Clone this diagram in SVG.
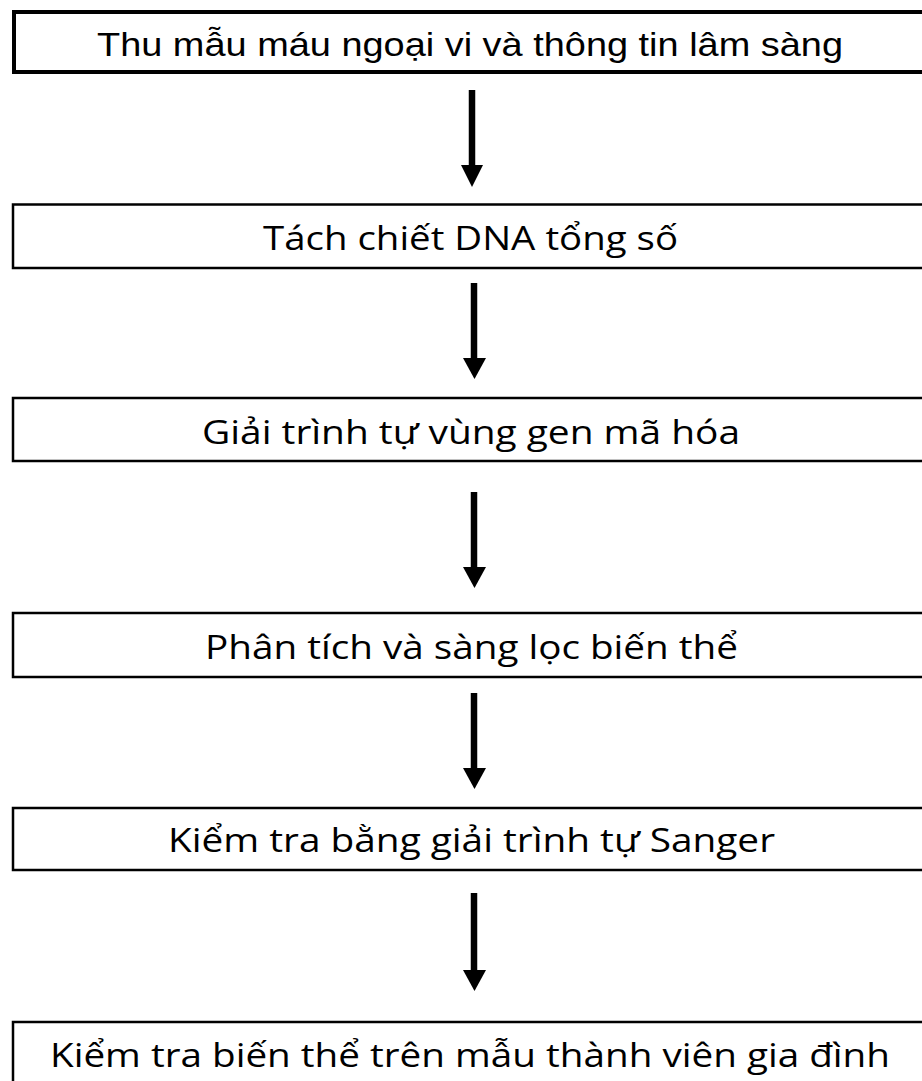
<svg xmlns="http://www.w3.org/2000/svg" width="922" height="1081" viewBox="0 0 922 1081">
<style>
.box{fill:#fff;stroke:#000;stroke-width:2.5}
.t1{font-family:"Liberation Sans",Arial,sans-serif;font-size:33px;fill:#000;text-anchor:middle}
.t2{font-family:"Open Sans","Noto Sans",sans-serif;font-size:33.5px;fill:#000;text-anchor:middle}
.arr{stroke:#000;stroke-width:6.5;fill:none}
.head{fill:#000}
</style>
<rect width="922" height="1081" fill="#fff"/>
<g id="connectors">
<path class="arr" d="M472,90 V167"/><path class="head" d="M461,165 L483,165 L472,187 Z"/>
<path class="arr" d="M474,283 V360"/><path class="head" d="M463,358 L486,358 L474.5,379 Z"/>
<path class="arr" d="M474,492 V569"/><path class="head" d="M463,567 L486,567 L474.5,588 Z"/>
<path class="arr" d="M474,693 V770"/><path class="head" d="M463,768 L486,768 L474.5,789 Z"/>
<path class="arr" d="M474,893 V972"/><path class="head" d="M463,970 L486,970 L474.5,991 Z"/>
</g>
<g id="n1"><rect x="14" y="12" width="920" height="60" fill="#fff" stroke="#000" stroke-width="4"/><text class="t1" x="470" y="56" textLength="746" lengthAdjust="spacingAndGlyphs">Thu mẫu máu ngoại vi và thông tin lâm sàng</text></g>
<g id="n2"><rect class="box" x="13" y="204.5" width="920" height="63.5"/><text class="t2" x="470.5" y="250" textLength="415" lengthAdjust="spacingAndGlyphs">Tách chiết DNA tổng số</text></g>
<g id="n3"><rect class="box" x="13" y="398" width="920" height="63"/><text class="t2" x="471" y="444" textLength="538" lengthAdjust="spacingAndGlyphs">Giải trình tự vùng gen mã hóa</text></g>
<g id="n4"><rect class="box" x="13" y="613" width="920" height="64"/><text class="t2" x="471.5" y="659" textLength="533" lengthAdjust="spacingAndGlyphs">Phân tích và sàng lọc biến thể</text></g>
<g id="n5"><rect class="box" x="13" y="808" width="920" height="62"/><text class="t2" x="471.5" y="852" textLength="607" lengthAdjust="spacingAndGlyphs">Kiểm tra bằng giải trình tự Sanger</text></g>
<g id="n6"><rect class="box" x="13" y="1022" width="920" height="80"/><text class="t2" x="470" y="1067" textLength="840" lengthAdjust="spacingAndGlyphs">Kiểm tra biến thể trên mẫu thành viên gia đình</text></g>
</svg>
